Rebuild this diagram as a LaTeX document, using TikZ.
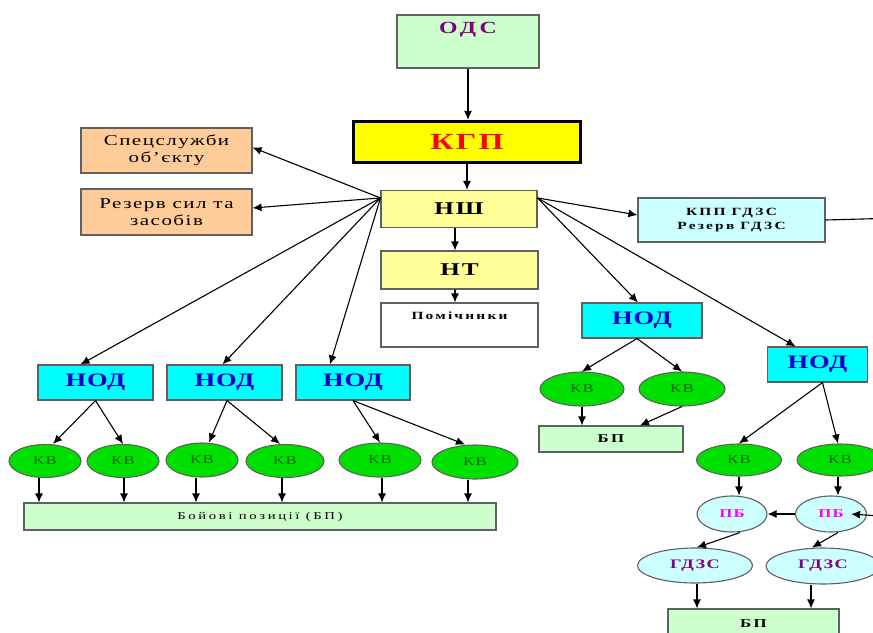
\documentclass[tikz,border=0pt]{standalone}
\usepackage{fontspec}
\setmainfont{Liberation Serif}
\newfontfamily\wA[FakeStretch=1.4,LetterSpace=10]{Liberation Serif}
\newfontfamily\wB[FakeStretch=1.4,LetterSpace=20]{Liberation Serif}
\newfontfamily\wC[FakeStretch=1.4,LetterSpace=25]{Liberation Serif}
\newfontfamily\wN[FakeStretch=1.4,LetterSpace=4]{Liberation Serif}
\usetikzlibrary{shapes.geometric,arrows.meta,calc}
\definecolor{lgreen}{HTML}{CCFFCC}
\definecolor{lyellow}{HTML}{FFFF99}
\definecolor{lcyan}{HTML}{CCFFFF}
\definecolor{lorange}{HTML}{FFCC99}
\definecolor{nodcyan}{HTML}{00FFFF}
\definecolor{kvgreen}{HTML}{00E000}
\definecolor{kvtext}{HTML}{006600}
\definecolor{purp}{HTML}{800080}
\definecolor{pbmag}{HTML}{FF00FF}
\definecolor{nodblue}{HTML}{0000CC}
\definecolor{kgpred}{HTML}{FF0000}
\definecolor{kgpyel}{HTML}{FFFF00}
\definecolor{bordergray}{HTML}{606060}
\begin{document}
\begin{tikzpicture}[x=1pt,y=-1pt,
  box/.style={draw=bordergray, line width=1.1pt, rectangle, inner sep=0pt, align=center},
  oval/.style={draw=bordergray, line width=1.1pt, ellipse, inner sep=0pt},
  arr/.style={-{Latex[length=9pt,width=8pt]}, line width=1.1pt, black},
  ln/.style={line width=1.1pt, black},
  nodbox/.style={box, fill=nodcyan, text=nodblue, font=\wN\bfseries\fontsize{19}{21}\selectfont},
  kvoval/.style={oval, fill=kvgreen, text=kvtext, font=\wA\fontsize{12}{13}\selectfont},
  pboval/.style={oval, fill=lcyan, text=pbmag, font=\wA\bfseries\fontsize{12}{13}\selectfont},
  gdoval/.style={oval, fill=lcyan, text=purp, font=\wA\bfseries\fontsize{13}{14}\selectfont},
  small/.style={font=\wA\fontsize{15}{17}\selectfont},
  bptext/.style={font=\wB\bfseries\fontsize{12}{13}\selectfont}
]
\useasboundingbox[fill=white] (0,0) rectangle (873,632);

% top chain
\node[box, fill=lgreen, minimum width=142, minimum height=53,
  label={[anchor=north, text=purp, font=\wB\bfseries\fontsize{17}{18}\selectfont, yshift=-4pt]north:ОДС}] (ods) at (468,41.5) {};
\node[box, draw=black, line width=3.2pt, fill=kgpyel, minimum width=227, minimum height=41,
  text=kgpred, font=\wA\bfseries\fontsize{23}{25}\selectfont] (kgp) at (467,142) {КГП};
\node[box, fill=lyellow, minimum width=156, minimum height=37,
  font=\wA\bfseries\fontsize{18}{20}\selectfont] (nsh) at (459,209) {НШ};
\node[box, fill=lyellow, minimum width=157, minimum height=38,
  font=\wA\bfseries\fontsize{18}{20}\selectfont] (nt) at (459.5,270) {НТ};
\node[box, fill=white, minimum width=157, minimum height=44,
  label={[anchor=north, font=\wB\bfseries\fontsize{11}{12}\selectfont, yshift=-6pt]north:Помічннки}] (pom) at (459.5,325) {};

% left side boxes
\node[box, fill=lorange, minimum width=171, minimum height=45, small] (spec) at (166.5,150.5) {Спецслужби\\об’єкту};
\node[box, fill=lorange, minimum width=171, minimum height=46, small] (rez) at (166.5,212) {Резерв сил та\\засобів};

% right top box
\node[box, fill=lcyan, minimum width=187, minimum height=44,
  font=\wB\bfseries\fontsize{11}{14}\selectfont] (kpp) at (731.5,220) {КПП ГДЗС\\Резерв ГДЗС};
\coordinate (kppend) at (880,218.5);

% left НОД group
\node[nodbox, minimum width=115, minimum height=35] (nod1) at (95.5,382.5) {НОД};
\node[nodbox, minimum width=115, minimum height=35] (nod2) at (224.5,382.5) {НОД};
\node[nodbox, minimum width=114, minimum height=35] (nod3) at (353,382.5) {НОД};

\node[kvoval, minimum width=72, minimum height=33] (kv1) at (45,461) {КВ};
\node[kvoval, minimum width=72, minimum height=33] (kv2) at (123,461) {КВ};
\node[kvoval, minimum width=72, minimum height=34] (kv3) at (202,460) {КВ};
\node[kvoval, minimum width=78, minimum height=33] (kv4) at (285,461) {КВ};
\node[kvoval, minimum width=82, minimum height=34] (kv5) at (380,460) {КВ};
\node[kvoval, minimum width=86, minimum height=34] (kv6) at (475,462) {КВ};

\node[box, fill=lgreen, minimum width=472, minimum height=27,
  font=\wC\fontsize{10.5}{12}\selectfont] (bp1) at (260,516.5) {Бойові позиції (БП)};

% middle right НОД
\node[nodbox, minimum width=120, minimum height=35] (nod4) at (642,320.5) {НОД};
\node[kvoval, minimum width=84, minimum height=34] (kv7) at (582,389) {КВ};
\node[kvoval, minimum width=86, minimum height=34] (kv8) at (682,389) {КВ};
\node[box, fill=lgreen, minimum width=144, minimum height=26, bptext] (bp2) at (611,439) {БП};

% far right НОД
\node[nodbox, minimum width=100, minimum height=35] (nod5) at (817.5,364.5) {НОД};
\node[kvoval, minimum width=85, minimum height=32] (kv9) at (739,460) {КВ};
\node[kvoval, minimum width=86, minimum height=32] (kv10) at (840,460) {КВ};
\node[pboval, minimum width=70, minimum height=36] (pb1) at (732,514) {ПБ};
\node[pboval, minimum width=71, minimum height=36] (pb2) at (831,514) {ПБ};
\coordinate (pbin) at (880,516);
\node[gdoval, minimum width=115, minimum height=35] (gd1) at (695,565.5) {ГДЗС};
\node[gdoval, minimum width=114, minimum height=36] (gd2) at (823,566) {ГДЗС};
\node[box, fill=lgreen, minimum width=171, minimum height=30, bptext, text depth=0pt] (bp3) at (753.5,624) {БП};

% connectors: top chain
\draw[arr] (ods.south) -- (ods.south |- kgp.north);
\draw[arr] (kgp.south) -- (kgp.south |- nsh.north);
\draw[arr] ([xshift=-4pt]nsh.south) -- ([xshift=-4pt]nsh.south |- nt.north);
\draw[arr] ([xshift=-4.5pt]nt.south) -- ([xshift=-4.5pt]nt.south |- pom.north);

% from НШ left
\draw[arr] (nsh.172) -- ([yshift=3pt]spec.east);
\draw[arr] (nsh.172) -- ([yshift=4pt]rez.east);
\draw[arr] (nsh.172) -- ([xshift=-15pt]nod1.north);
\draw[arr] (nsh.172) -- ([xshift=-2pt]nod2.north);
\draw[arr] (nsh.172) -- ([xshift=-23pt]nod3.north);

% from НШ right
\draw[arr] (nsh.8) -- ([yshift=5pt]kpp.west);
\draw[ln] (kpp.east) -- (kppend);
\draw[arr] (nsh.8) -- ([xshift=-4pt]nod4.north);
\draw[arr] (nsh.8) -- ([xshift=-22pt]nod5.north);

% left group
\draw[arr] (nod1.south) -- ([xshift=8pt]kv1.north);
\draw[arr] (nod1.south) -- (kv2.north);
\draw[arr] ([xshift=2.5pt]nod2.south) -- ([xshift=7pt]kv3.north);
\draw[arr] ([xshift=2.5pt]nod2.south) -- ([xshift=-5pt]kv4.north);
\draw[arr] (nod3.south) -- (kv5.north);
\draw[arr] (nod3.south) -- ([xshift=-10pt]kv6.north);
\foreach \k/\s in {kv1/-6,kv2/1,kv3/-6,kv4/-3,kv5/2,kv6/-7}
  \draw[arr] ([xshift=\s pt]\k.south) -- ([xshift=\s pt]\k.south |- bp1.north);

% middle right group
\draw[arr] ([xshift=-5pt]nod4.south) -- (kv7.north);
\draw[arr] ([xshift=-5pt]nod4.south) -- (kv8.north);
\draw[arr] (kv7.south) -- (kv7.south |- bp2.north);
\draw[arr] (kv8.south) -- ([xshift=29pt]bp2.north);

% far right group
\draw[arr] ([xshift=5pt]nod5.south) -- (kv9.north);
\draw[arr] ([xshift=5pt]nod5.south) -- ([xshift=-2pt]kv10.north);
\draw[arr] (kv9.south) -- (kv9.south |- pb1.north);
\draw[arr] ([xshift=-2pt]kv10.south) -- ([xshift=-2pt]kv10.south |- pb2.north);
\draw[arr] (pb2.west) -- (pb1.east);
\draw[arr] (pbin) -- ([xshift=-16pt]pb2.east);
\draw[arr] ([xshift=8pt]pb1.south) -- ([xshift=2pt]gd1.north);
\draw[arr] ([xshift=7pt]pb2.south) -- ([xshift=-11pt]gd2.north);
\draw[arr] ([xshift=2pt]gd1.south) -- ([xshift=2pt]gd1.south |- bp3.north);
\draw[arr] ([xshift=-12pt]gd2.south) -- ([xshift=-12pt]gd2.south |- bp3.north);
\end{tikzpicture}
\end{document}
